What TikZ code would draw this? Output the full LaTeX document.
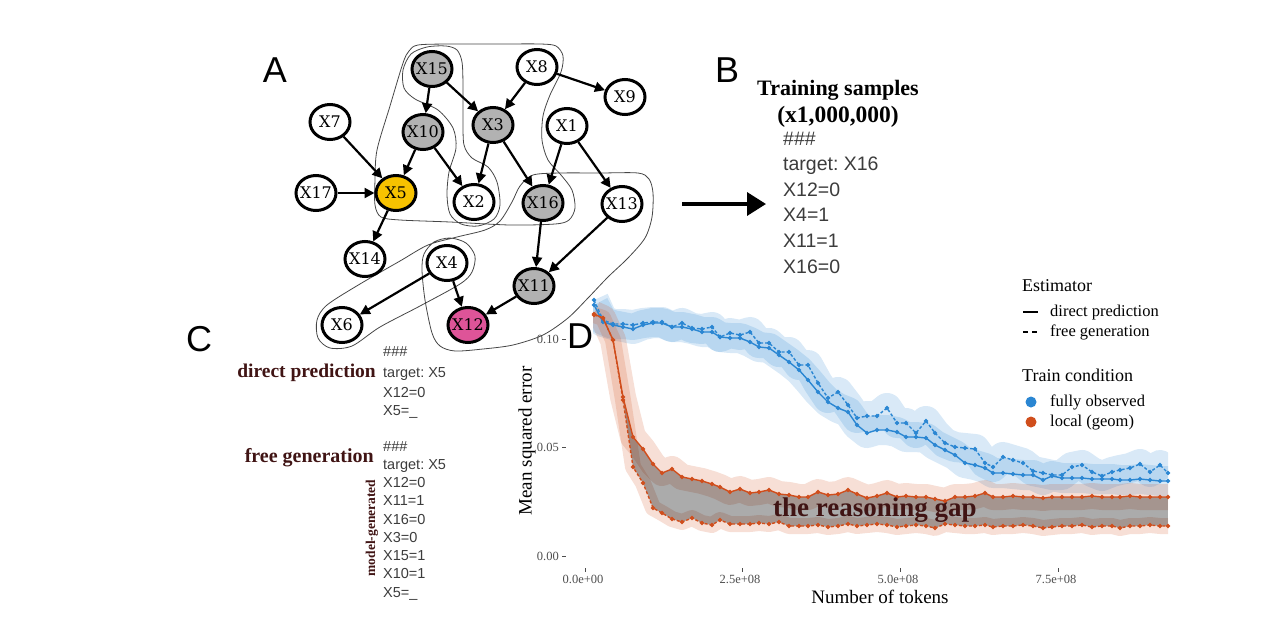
\documentclass[tikz,border=0pt]{standalone}
\usepackage{fontspec}
\setmainfont{Liberation Serif}
\newfontfamily\sansf{Liberation Sans}
\newfontfamily\nodef{DejaVu Serif}
\usetikzlibrary{shapes.geometric,arrows.meta}
\definecolor{gnodec}{RGB}{178,178,178}
\definecolor{goldc}{RGB}{247,194,0}
\definecolor{pinkc}{RGB}{222,84,152}
\definecolor{bluec}{RGB}{42,134,210}
\definecolor{orangec}{RGB}{208,78,28}
\definecolor{brownc}{RGB}{64,20,20}
\definecolor{sampc}{RGB}{60,60,60}
\definecolor{hullc}{RGB}{70,70,70}
\definecolor{axc}{RGB}{77,77,77}
\frenchspacing

\def\serBS{(594,305) (603,322) (613,325) (623,327) (633,329) (643,325) (653,323) (662,323) (672,327) (682,327) (692,329) (702,332) (712,332) (720,337) (730,338) (740,338) (750,342) (759,347) (769,348) (779,355) (789,362) (799,370) (808,380) (818,392) (828,402) (838,408) (848,412) (857,425) (867,433) (877,430) (887,430) (897,432) (906,437) (916,437) (926,438) (935,445) (945,450) (955,455) (965,463) (975,465) (985,468) (993,473) (1003,473) (1013,474) (1023,475) (1033,475) (1043,480) (1052,476) (1062,478) (1072,478) (1082,478) (1092,479) (1102,479) (1112,479) (1120,480) (1130,480) (1140,479) (1150,480) (1160,481) (1168,481)}
\def\serBD{(594,300) (603,320) (613,324) (623,324) (633,325) (643,323) (653,322) (662,322) (672,327) (682,323) (692,328) (702,329) (712,327) (720,337) (730,333) (740,335) (750,332) (759,343) (769,343) (779,352) (789,352) (799,365) (808,365) (818,383) (828,398) (838,392) (848,405) (857,418) (867,416) (877,416) (887,408) (897,423) (906,423) (916,433) (926,421) (935,433) (945,443) (955,447) (965,448) (975,449) (985,463) (993,467) (1003,457) (1013,460) (1023,463) (1033,471) (1043,473) (1052,475) (1062,475) (1072,467) (1082,465) (1092,472) (1102,476) (1112,472) (1120,470) (1130,468) (1140,464) (1150,472) (1160,465) (1168,473)}
\def\serOS{(594,314) (603,318) (613,340) (623,397) (633,437) (643,449) (653,464) (662,473) (672,469) (682,477) (692,479) (702,481) (712,484) (720,487) (730,492) (740,489) (750,493) (759,492) (769,490) (779,494) (789,495) (799,497) (808,497) (818,492) (828,495) (838,494) (848,490) (857,494) (867,498) (877,496) (887,493) (897,497) (906,496) (916,497) (926,497) (935,499) (945,501) (955,497) (965,497) (975,496) (985,493) (993,497) (1003,497) (1013,496) (1023,497) (1033,497) (1043,498) (1052,497) (1062,497) (1072,497) (1082,497) (1092,496) (1102,497) (1112,497) (1120,497) (1130,496) (1140,497) (1150,497) (1160,497) (1168,497)}
\def\serOD{(594,315) (603,318) (613,340) (623,400) (633,467) (643,483) (653,508) (662,513) (672,519) (682,522) (692,518) (702,523) (712,525) (720,520) (730,524) (740,524) (750,524) (759,523) (769,524) (779,522) (789,526) (799,526) (808,526) (818,525) (828,527) (838,526) (848,524) (857,526) (867,525) (877,524) (887,525) (897,527) (906,526) (916,525) (926,526) (935,528) (945,524) (955,525) (965,526) (975,526) (985,525) (993,527) (1003,526) (1013,526) (1023,525) (1033,526) (1043,528) (1052,527) (1062,526) (1072,526) (1082,525) (1092,527) (1102,526) (1112,526) (1120,528) (1130,526) (1140,526) (1150,525) (1160,526) (1168,526)}

\newcommand\plotser[2]{\edef\plotcmdtmp{\noexpand\draw[#1] plot coordinates {#2};}\plotcmdtmp}

\begin{document}
\begin{tikzpicture}[x=1pt,y=-1pt,
  gn/.style={ellipse, draw=black, line width=3pt, minimum width=40pt, minimum height=35pt,
    inner xsep=-3pt, inner ysep=0pt, font=\nodef\fontsize{16}{16}\selectfont},
  edge/.style={line width=2.2pt, -{Triangle[length=10pt,width=10pt]}},
  hull/.style={hullc, line width=0.8pt},
  panel/.style={font=\sansf\fontsize{36}{36}\selectfont},
  sampB/.style={anchor=base west, inner sep=0pt, text=sampc, font=\sansf\fontsize{19.5}{20}\selectfont},
  sampC/.style={anchor=base west, inner sep=0pt, text=sampc, font=\sansf\fontsize{14.5}{15}\selectfont},
  brownlab/.style={text=brownc, inner sep=0pt, font=\bfseries\fontsize{19.5}{20}\selectfont},
  ticklab/.style={text=axc, inner sep=0pt, font=\fontsize{12.5}{13}\selectfont},
  axlab/.style={inner sep=0pt, font=\fontsize{19}{20}\selectfont},
  legtitle/.style={anchor=base west, inner sep=0pt, font=\fontsize{18}{18}\selectfont},
  legtext/.style={anchor=base west, inner sep=0pt, font=\fontsize{16.5}{17}\selectfont},
  tick/.style={axc, line width=1pt},
  ribbon/.style={opacity=0.18, line join=round}
]
\useasboundingbox (0,0) rectangle (1280,616);

% ---------- hulls ----------
\draw[hull] plot[smooth cycle, tension=0.5] coordinates {(418,45) (450,44) (500,44) (540,44) (556,46) (563,56) (561,72) (550,95) (543,116) (542,140) (548,160) (561,175) (572,190) (575,208) (569,220) (555,224) (510,225) (450,222) (400,220) (381,217) (375,205) (375,180) (377,150) (390,106) (403,63) (409,51)};
\draw[hull] plot[smooth cycle, tension=0.5] coordinates {(427,47) (446,46) (457,50) (462,62) (463,85) (463,120) (464,145) (472,158) (488,167) (497,182) (500,205) (494,219) (478,226) (461,224) (450,214) (447,195) (449,172) (456,148) (453,128) (438,110) (415,99) (404,88) (403,70) (411,54)};
\draw[hull] plot[smooth cycle, tension=0.5] coordinates {(533,175) (560,173) (600,173) (638,173) (649,179) (653,193) (652,217) (645,238) (628,258) (608,277) (588,298) (568,318) (543,335) (513,345) (483,349) (455,351) (440,346) (432,333) (425,300) (422,270) (424,254) (434,242) (450,238) (466,243) (475,256) (472,272) (460,284) (420,306) (380,327) (352,346) (330,348) (318,338) (317,320) (327,305) (360,284) (400,261) (428,245) (457,237) (485,230) (500,221) (512,202) (520,186)};

% ---------- nodes ----------
\node[gn, fill=gnodec] (x15) at (432,69) {X15};
\node[gn, fill=white] (x8) at (537,67) {X8};
\node[gn, fill=white] (x9) at (625,97) {X9};
\node[gn, fill=white] (x7) at (330,122) {X7};
\node[gn, fill=gnodec] (x10) at (423,132) {X10};
\node[gn, fill=gnodec] (x3) at (493,125) {X3};
\node[gn, fill=white] (x1) at (567,126) {X1};
\node[gn, fill=white] (x17) at (316,193) {X17};
\node[gn, fill=goldc] (x5) at (396,193) {X5};
\node[gn, fill=white] (x2) at (474,202) {X2};
\node[gn, fill=gnodec] (x16) at (543,203) {X16};
\node[gn, fill=white] (x13) at (622,204) {X13};
\node[gn, fill=white] (x14) at (365,259) {X14};
\node[gn, fill=white] (x4) at (447,263) {X4};
\node[gn, fill=gnodec] (x11) at (534,286) {X11};
\node[gn, fill=white] (x6) at (342,325) {X6};
\node[gn, fill=pinkc] (x12) at (468,325) {X12};

% ---------- edges ----------
\draw[edge] (x15) -- (x10);
\draw[edge] (x15) -- (x3);
\draw[edge] (x8) -- (x3);
\draw[edge] (x8) -- (x9);
\draw[edge] (x7) -- (x5);
\draw[edge] (x10) -- (x5);
\draw[edge] (x10) -- (x2);
\draw[edge] (x3) -- (x2);
\draw[edge] (x3) -- (x16);
\draw[edge] (x1) -- (x16);
\draw[edge] (x1) -- (x13);
\draw[edge] (x17) -- (x5);
\draw[edge] (x5) -- (x14);
\draw[edge] (x16) -- (x11);
\draw[edge] (x13) -- (x11);
\draw[edge] (x4) -- (x6);
\draw[edge] (x4) -- (x12);
\draw[edge] (x11) -- (x12);

% ---------- panel letters ----------
\node[panel] (pA) at (275,70) {A};
\node[panel] (pB) at (727,70) {B};
\node[panel] (pC) at (199,339) {C};

% ---------- B ----------
\coordinate (arrS) at (682,204);
\coordinate (arrE) at (766,204);
\draw[line width=3.5pt, -{Triangle[length=19pt,width=23pt]}] (arrS) -- (arrE);
\node[anchor=base, inner sep=0pt, font=\bfseries\fontsize{22}{22}\selectfont] (ts1) at (838,95) {Training samples};
\node[anchor=base, inner sep=0pt, font=\bfseries\fontsize{23.5}{24}\selectfont] (ts2) at (838,122) {(x1,000,000)};
\foreach \t [count=\i] in {\#\#\#, target: X16, X12=0, X4=1, X11=1, X16=0}
  \node[sampB] (b\i) at (783,{145+25.6*(\i-1)}) {\t};

% ---------- C ----------
\node[brownlab, anchor=base east] (dp) at (376,377) {direct prediction};
\node[brownlab, anchor=base east, font=\bfseries\fontsize{20}{20}\selectfont] (fg) at (374,462) {free generation};
\node[sampC] (c1) at (383,356) {\#\#\#};
\node[sampC] (c2) at (383,377.5) {target: X5};
\node[sampC] (c3) at (383,397) {X12=0};
\node[sampC] (c4) at (383,415.5) {X5=\_};
\foreach \t [count=\i] in {\#\#\#, target: X5, X12=0, X11=1, X16=0, X3=0, X15=1, X10=1, X5=\_}
  \node[sampC] (g\i) at (383,{451+18.25*(\i-1)}) {\t};
\node[text=brownc, inner sep=0pt, rotate=90, font=\bfseries\fontsize{13.5}{14}\selectfont] (mg) at (372,528) {model-generated};

% ---------- D : plot ----------
\begin{scope}
\clip (593,250) rectangle (1168,600);
\plotser{bluec, line width=30pt, ribbon}{\serBS}
\plotser{bluec, line width=30pt, ribbon}{\serBD}
\plotser{orangec, line width=26pt, ribbon}{\serOS}
\plotser{orangec, line width=16pt, ribbon}{\serOD}
\end{scope}
\begin{scope}
\edef\plotcmdtmp{\noexpand\clip plot coordinates {\serOS} -- (1168,600) -- (594,600) -- cycle;}\plotcmdtmp
\edef\plotcmdtmp{\noexpand\fill[black, opacity=0.33] plot coordinates {\serOD} -- (1168,250) -- (594,250) -- cycle;}\plotcmdtmp
\end{scope}
\plotser{bluec, line width=1.4pt, mark=*, mark size=1.4pt}{\serBS}
\plotser{bluec, line width=1.4pt, dash pattern=on 3pt off 2pt, mark=*, mark size=1.4pt, mark options={solid}}{\serBD}
\plotser{orangec, line width=1.4pt, mark=*, mark size=1.4pt}{\serOS}
\plotser{orangec, line width=1.4pt, dash pattern=on 3pt off 2pt, mark=*, mark size=1.4pt, mark options={solid}}{\serOD}

\node[panel] (pD) at (580,336) {D};

% axes
\foreach \v/\lab in {339/0.10, 447.5/0.05, 556/0.00}{
  \draw[tick] (562,\v) -- (566,\v);
  \node[ticklab, anchor=base east] at (559,\v+4) {\lab};
}
\foreach \xx/\lab in {583/0.0e+00, 740/2.5e+08, 898/5.0e+08, 1056/7.5e+08}{
  \draw[tick] (\xx+2,568) -- (\xx+2,572);
  \node[ticklab, anchor=base] at (\xx,583) {\lab};
}
\node[axlab, rotate=90] (ylab) at (527,441) {Mean squared error};
\node[axlab, anchor=base] (xlab) at (880,603) {Number of tokens};

\node[anchor=base west, text=brownc, inner sep=0pt, font=\bfseries\fontsize{27}{27}\selectfont] (gap) at (773,516) {the reasoning gap};

% legend
\node[legtitle] (lt1) at (1022,291) {Estimator};
\coordinate (l1a) at (1023,312); \coordinate (l1b) at (1038,312);
\draw[line width=2pt] (l1a) -- (l1b);
\node[legtext] (le1) at (1050,316.5) {direct prediction};
\coordinate (l2a) at (1023,332); \coordinate (l2b) at (1038,332);
\draw[line width=2pt, dash pattern=on 5pt off 4pt] (l2a) -- (l2b);
\node[legtext] (le2) at (1050,336.5) {free generation};
\node[legtitle] (lt2) at (1022,381) {Train condition};
\fill[bluec] (1031,402) circle (5.5);
\node[legtext] (le3) at (1050,406.5) {fully observed};
\fill[orangec] (1031,422) circle (5.5);
\node[legtext] (le4) at (1050,426.5) {local (geom)};
\end{tikzpicture}
\end{document}
